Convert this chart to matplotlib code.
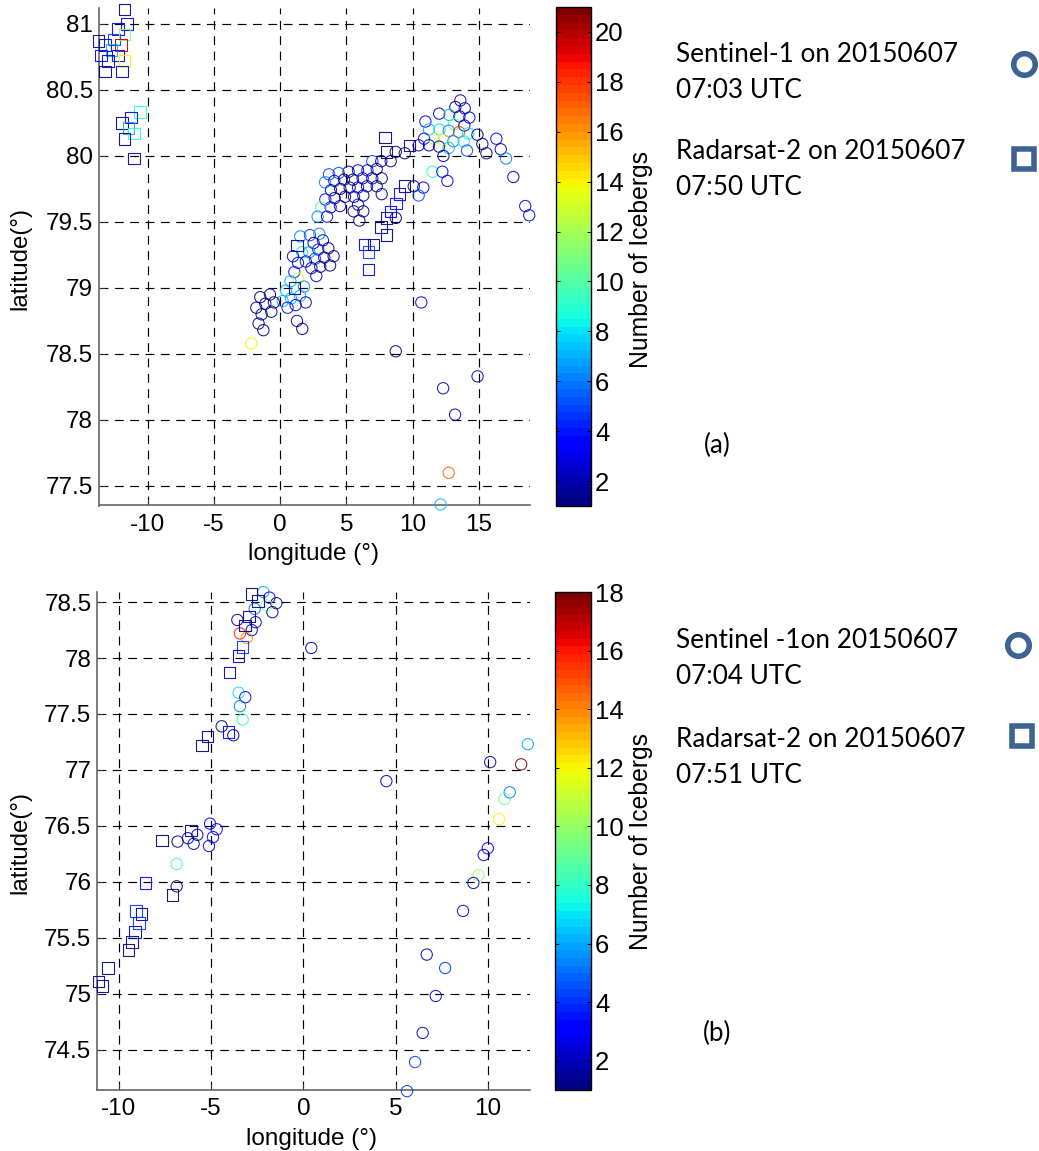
import matplotlib
matplotlib.use("Agg")
import matplotlib.pyplot as plt
from matplotlib.cm import ScalarMappable
from matplotlib.colors import Normalize
from matplotlib.lines import Line2D

W, H = 1039, 1151

# (a) Sentinel-1 circles
a_s1_lon = [13.6, 13.22, 13.93, 12.0, 12.77, 13.53, 14.28, 10.96, 13.12, 13.9, 11.23, 12.02, 12.72, 13.5, 14.2,
            14.89, 10.86, 11.61, 12.34, 13.07, 13.85, 16.32, 16.65, 15.26, 15.57, 10.45, 11.23, 11.99, 12.72, 14.1,
            12.32, 17.05, 17.6, 18.5, 18.8, 11.5, 12.24, 12.62, 10.8, 10.08, 10.45, 9.4, 8.72, 8.34, 7.63,
            6.95, 7.28, 6.58, 5.87, 5.16, 4.41, 3.68, 3.38, 4.08, 4.81, 5.49, 6.22, 6.95, 7.66, 3.83,
            4.53, 5.24, 5.87, 6.55, 7.28, 7.66, 6.27, 5.57, 4.89, 4.1, 3.4, 5.87, 4.51, 3.8, 3.07,
            2.82, 3.53, 5.54, 6.27, 5.97, 8.72, 1.51, 2.24, 2.95, 3.22, 2.52, 3.63, 2.87, 2.19, 1.64,
            0.96, 4.03, 3.32, 2.62, 1.93, 1.34, 3.76, 3.02, 2.35, 2.72, 1.06, 1.36, 0.76, 0.43, 1.79,
            1.49, 0.81, 0.18, 1.92, 1.16, 0.55, -0.78, -1.51, -0.48, -1.13, -1.81, -0.68, -1.41, -1.64, -1.28,
            1.26, 1.66, -2.19, 10.65, 8.72, 12.3, 13.2, 14.9, 12.72, 12.1]
a_s1_lat = [80.42, 80.37, 80.36, 80.32, 80.31, 80.30, 80.29, 80.26, 80.24, 80.23, 80.20, 80.20, 80.19, 80.18, 80.17,
            80.16, 80.13, 80.13, 80.12, 80.11, 80.11, 80.13, 80.05, 80.09, 80.02, 80.08, 80.08, 80.07, 80.06, 80.04,
            80.0, 79.98, 79.84, 79.62, 79.55, 79.88, 79.88, 79.81, 79.76, 79.77, 79.70, 80.02, 80.03, 79.96, 79.96,
            79.96, 79.90, 79.89, 79.89, 79.88, 79.87, 79.86, 79.80, 79.81, 79.82, 79.82, 79.83, 79.83, 79.83, 79.74,
            79.75, 79.76, 79.76, 79.77, 79.77, 79.71, 79.70, 79.69, 79.69, 79.68, 79.67, 79.63, 79.62, 79.61, 79.61,
            79.54, 79.54, 79.58, 79.58, 79.51, 79.53, 79.39, 79.40, 79.41, 79.36, 79.34, 79.30, 79.29, 79.27, 79.27,
            79.24, 79.24, 79.23, 79.22, 79.20, 79.19, 79.17, 79.16, 79.15, 79.09, 79.12, 79.07, 79.05, 78.98, 79.01,
            78.94, 78.92, 78.90, 78.89, 78.87, 78.85, 78.95, 78.93, 78.89, 78.88, 78.85, 78.82, 78.80, 78.73, 78.68,
            78.75, 78.69, 78.58, 78.89, 78.52, 78.24, 78.04, 78.33, 77.6, 77.36]
a_s1_n = [2, 1, 2, 2, 7, 1, 3, 3, 10, 2, 7, 8, 6, 18, 8,
          1, 3, 12, 14, 6, 8, 3, 2, 1, 1, 3, 2, 2, 7, 5,
          2, 6, 2, 3, 3, 9, 3, 3, 3, 1, 5, 1, 1, 1, 1,
          5, 2, 2, 2, 1, 5, 5, 6, 3, 1, 1, 2, 2, 1, 2,
          1, 1, 3, 2, 1, 1, 1, 2, 1, 2, 4, 2, 3, 2, 10,
          6, 3, 1, 1, 1, 1, 6, 5, 6, 3, 1, 1, 4, 6, 8,
          3, 1, 1, 5, 3, 2, 1, 1, 2, 2, 4, 13, 7, 7, 6,
          7, 7, 7, 2, 3, 4, 1, 1, 1, 1, 1, 1, 1, 1, 1,
          1, 1, 14, 3, 1, 2, 2, 2, 17, 7]

# (a) Radarsat-2 squares
a_rs2_lon = [7.91, 9.77, 8.01, 9.37, 8.99, 8.72, 8.31, 8.01, 7.61, 8.01, 6.35, 7.05, 6.65, 6.65, 1.26, 1.06,
             -11.76, -11.56, -12.24, -12.57, -11.76, -13.72, -13.24, -12.04, -12.74, -13.52, -12.24, -13.02,
             -11.76, -13.22, -11.96, -10.58, -11.26, -11.96, -11.46, -11.06, -11.76, -11.06]
a_rs2_lat = [80.14, 80.08, 80.03, 79.77, 79.71, 79.64, 79.58, 79.53, 79.46, 79.40, 79.33, 79.33, 79.27, 79.14, 79.32, 79.0,
             81.11, 81.0, 80.96, 80.88, 80.92, 80.87, 80.84, 80.84, 80.8, 80.76, 80.76, 80.72,
             80.72, 80.64, 80.64, 80.33, 80.29, 80.25, 80.21, 80.17, 80.13, 79.98]
a_rs2_n = [1, 1, 1, 1, 3, 4, 3, 2, 1, 1, 3, 1, 5, 3, 1, 1,
           1, 3, 3, 5, 11, 1, 2, 20, 7, 3, 3, 2,
           14, 1, 2, 9, 3, 1, 7, 9, 1, 2]

# (b) Sentinel-1 circles
b_s1_lon = [-2.17, -1.84, -1.46, -1.99, -1.68, -2.64, -3.58, -2.59, -2.8, -3.44, -3.07, 0.43, -3.51, -3.15, -3.44,
            -3.29, -4.43, -3.8, -5.06, -4.7, -5.75, -4.9, -6.26, -6.82, -5.95, -5.12, -6.87, -6.87,
            12.17, 10.13, 11.81, 4.5, 11.19, 10.9, 10.61, 10.0, 9.78, 9.5, 9.22, 8.66,
            6.69, 7.69, 7.18, 6.47, 6.06, 5.62]
b_s1_lat = [78.59, 78.54, 78.49, 78.47, 78.41, 78.44, 78.34, 78.32, 78.25, 78.22, 78.18, 78.09, 77.69, 77.65, 77.57,
            77.45, 77.39, 77.31, 76.52, 76.47, 76.42, 76.4, 76.39, 76.36, 76.34, 76.32, 76.16, 75.96,
            77.23, 77.07, 77.05, 76.90, 76.80, 76.74, 76.56, 76.30, 76.24, 76.06, 75.99, 75.74,
            75.35, 75.23, 74.98, 74.65, 74.39, 74.13]
b_s1_n = [6, 3, 2, 10, 1, 5, 2, 2, 2, 16, 14, 2, 7, 3, 5,
          8, 1, 1, 3, 3, 2, 3, 2, 1, 2, 3, 8, 1,
          6, 2, 18, 2, 5, 9, 12, 3, 2, 10, 2, 3,
          2, 4, 3, 2, 4, 4]

# (b) Radarsat-2 squares
b_rs2_lon = [-2.82, -2.46, -2.95, -3.15, -3.29, -3.51, -4.0, -4.05, -5.19, -5.48,
             -6.09, -7.65, -8.57, -7.09, -9.06, -8.77, -8.92, -9.13, -9.28, -9.48, -10.61, -11.1, -10.89]
b_rs2_lat = [78.57, 78.51, 78.37, 78.29, 78.1, 78.02, 77.87, 77.34, 77.3, 77.22,
             76.46, 76.37, 75.99, 75.88, 75.74, 75.71, 75.63, 75.55, 75.46, 75.39, 75.23, 75.11, 75.07]
b_rs2_n = [1, 1, 1, 1, 4, 2, 2, 3, 1, 1,
           1, 1, 3, 1, 4, 1, 4, 2, 1, 1, 1, 1, 1]

a_xticks = [-10, -5, 0, 5, 10, 15]
a_yticks = [77.5, 78, 78.5, 79, 79.5, 80, 80.5, 81]
b_xticks = [-10, -5, 0, 5, 10]
b_yticks = [74.5, 75, 75.5, 76, 76.5, 77, 77.5, 78, 78.5]
a_cticks = [2, 4, 6, 8, 10, 12, 14, 16, 18, 20]
b_cticks = [2, 4, 6, 8, 10, 12, 14, 16, 18]

plt.rcParams["font.family"] = ["Liberation Sans", "DejaVu Sans"]
plt.rcParams["axes.unicode_minus"] = False
LEG_FONT = ["Lato", "DejaVu Sans"]
LEG_COLOR = "#3d6393"

fig = plt.figure(figsize=(W / 100, H / 100), dpi=100)
cmap = plt.get_cmap("jet", 64)


def px_axes(left, top, right, bottom):
    return fig.add_axes([left / W, 1 - bottom / H, (right - left) / W, (bottom - top) / H])


def put_text(x, y, s, **kw):
    kw.setdefault("ha", "center")
    kw.setdefault("va", "center")
    fig.text(x / W, 1 - y / H, s, **kw)


def panel(box, xlim, ylim, xticks, yticks, s1, rs2, vmax):
    ax = px_axes(*box)
    norm = Normalize(1, vmax)
    ax.scatter(s1[0], s1[1], s=66, marker="o", facecolors="none", edgecolors=cmap(norm(s1[2])),
               linewidths=0.75, alpha=0.9, clip_on=False, zorder=3)
    ax.scatter(rs2[0], rs2[1], s=70, marker="s", facecolors="none", edgecolors=cmap(norm(rs2[2])),
               linewidths=0.8, alpha=0.9, clip_on=False, zorder=4)
    ax.set_xlim(xlim)
    ax.set_ylim(ylim)
    ax.set_xticks(xticks)
    ax.set_yticks(yticks)
    ax.set_yticklabels([f"{v:g}" for v in yticks])
    ax.grid(True, color="black", lw=0.85, ls=(0, (7.5, 5.5)))
    ax.set_axisbelow(True)
    ax.tick_params(direction="in", length=4, width=0.7, labelsize=17.5, color="#333333")
    ax.tick_params(axis="x", pad=6)
    ax.tick_params(axis="y", pad=4)
    for side in ("top", "right"):
        ax.spines[side].set_visible(False)
    for side in ("left", "bottom"):
        ax.spines[side].set_color("#666666")
        ax.spines[side].set_linewidth(1.2)
    return ax, norm


def side_bar(box, norm, ticks):
    cax = px_axes(*box)
    cb = fig.colorbar(ScalarMappable(norm=norm, cmap=cmap), cax=cax)
    cb.set_ticks(ticks)
    cb.ax.tick_params(direction="in", length=3, width=0.7, labelsize=18.5, pad=3, left=True, right=True)
    cb.outline.set_linewidth(1.0)
    return cb


def legend_mark(x, y, marker, size):
    fig.add_artist(Line2D([x / W], [1 - y / H], transform=fig.transFigure, marker=marker, ms=size,
                          mfc="none", mec=LEG_COLOR, mew=4, ls="none"))


ax_a, norm_a = panel((98.5, 8, 530, 505.5), (-13.73, 18.86), (77.352, 81.12), a_xticks, a_yticks,
                     (a_s1_lon, a_s1_lat, a_s1_n), (a_rs2_lon, a_rs2_lat, a_rs2_n), 21)
ax_b, norm_b = panel((97, 592, 530, 1090), (-11.19, 12.29), (74.14, 78.59), b_xticks, b_yticks,
                     (b_s1_lon, b_s1_lat, b_s1_n), (b_rs2_lon, b_rs2_lat, b_rs2_n), 18)
side_bar((556, 7, 591, 506), norm_a, a_cticks)
side_bar((555, 592, 591, 1090), norm_b, b_cticks)

# axis labels
put_text(313, 554, "longitude (°)", fontsize=17.5)
put_text(311, 1139, "longitude (°)", fontsize=17.5)
put_text(20, 258, "latitude(°)", fontsize=17.3, rotation=90)
put_text(20, 842, "latitude(°)", fontsize=17.3, rotation=90)
put_text(641, 259, "Number of Icebergs", fontsize=17.8, rotation=90)
put_text(641, 842, "Number of Icebergs", fontsize=17.8, rotation=90)

# legend text next to the bars
for y, s in [(62, "Sentinel-1 on 20150607"), (98, "07:03 UTC"), (159, "Radarsat-2 on 20150607"), (195, "07:50 UTC"),
             (648, "Sentinel -1on 20150607"), (684, "07:04 UTC"), (747, "Radarsat-2 on 20150607"), (783, "07:51 UTC")]:
    put_text(676, y, s, ha="left", va="baseline", fontsize=18.8, family=LEG_FONT)
put_text(717, 453, "(a)", va="baseline", fontsize=18.8, family=LEG_FONT)
put_text(717, 1041, "(b)", va="baseline", fontsize=18.8, family=LEG_FONT)

legend_mark(1024, 64, "o", 15.5)
legend_mark(1024, 159, "s", 15)
legend_mark(1018, 645, "o", 15.5)
legend_mark(1022, 736, "s", 15)

fig.savefig("out.png", dpi=100)
